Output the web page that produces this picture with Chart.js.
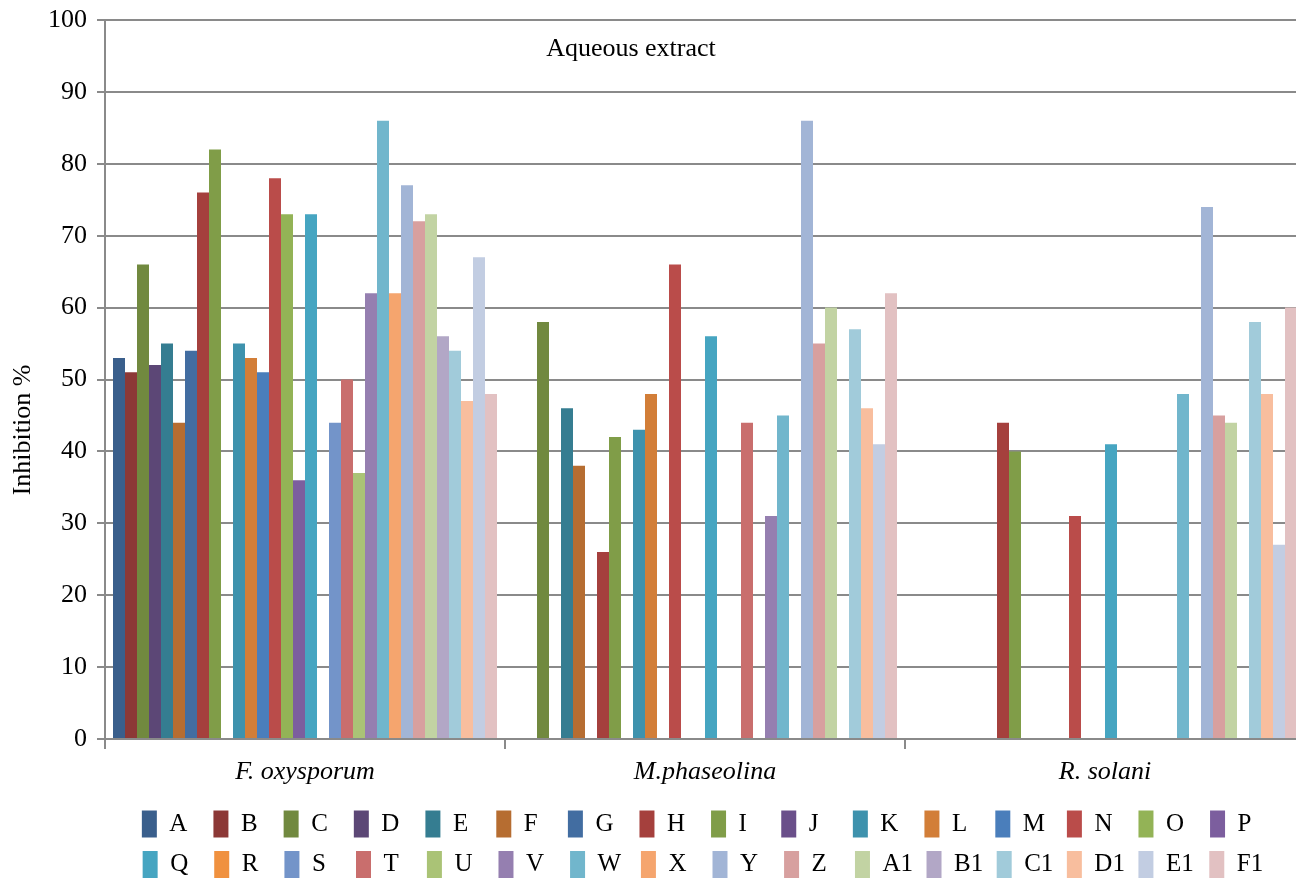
<!DOCTYPE html>
<html>
<head>
<meta charset="utf-8">
<script src="https://cdn.jsdelivr.net/npm/chart.js@4.4.1/dist/chart.umd.min.js"></script>
<style>
    html, body { margin: 0; padding: 0; background: #fff; overflow: hidden; }
    #wrap { width: 1320px; height: 888px; }
</style>
</head>
<body>
<div id="wrap"><canvas id="inhibitionChart"></canvas></div>
<script>
    // categories (x axis groups)
    const categories = ['F. oxysporum', 'M.phaseolina', 'R. solani'];

    // series names (legend)
    const seriesNames = ['A', 'B', 'C', 'D', 'E', 'F', 'G', 'H', 'I', 'J', 'K', 'L', 'M', 'N', 'O', 'P',
        'Q', 'R', 'S', 'T', 'U', 'V', 'W', 'X', 'Y', 'Z', 'A1', 'B1', 'C1', 'D1', 'E1', 'F1'];

    // inhibition % per series, one array per fungus (null = no bar)
    const fOxysporum = [53, 51, 66, 52, 55, 44, 54, 76, 82, null, 55, 53, 51, 78, 73, 36,
        73, null, 44, 50, 37, 62, 86, 62, 77, 72, 73, 56, 54, 47, 67, 48];
    const mPhaseolina = [null, null, 58, null, 46, 38, null, 26, 42, null, 43, 48, null, 66, null, null,
        56, null, null, 44, null, 31, 45, null, 86, 55, 60, null, 57, 46, 41, 62];
    const rSolani = [null, null, null, null, null, null, null, 44, 40, null, null, null, null, 31, null, null,
        41, null, null, null, null, null, 48, null, 74, 45, 44, null, 58, 48, 27, 60];

    // y axis ticks
    const yTicks = [0, 10, 20, 30, 40, 50, 60, 70, 80, 90, 100];

    const seriesColors = [
        '#3a5f8c', '#8c3836', '#71893f', '#5c4776', '#357d91', '#b66d31',
        '#426da1', '#a5403d', '#809d48', '#6a4f8a', '#3e92ad', '#d27e38',
        '#4a7ebb', '#ba4c4a', '#93b356', '#7c5e9e', '#46a5c1', '#f0913f',
        '#7394c9', '#c96e6d', '#aac376', '#957fb0', '#71b6cc', '#f5a56e',
        '#a2b5d6', '#d7a09f', '#c2d3a3', '#b2a7c6', '#a1cbda', '#f8be9e',
        '#c2cde2', '#e2c1c2'
    ];

    const serif = '"Liberation Serif", "Times New Roman", serif';
    const gridGray = '#8a8a8a';
    const legendFontSize = 25;

    Chart.defaults.font.family = serif;
    Chart.defaults.color = '#000';

    const datasets = seriesNames.map((name, i) => ({
        label: name,
        data: [fOxysporum[i], mPhaseolina[i], rSolani[i]],
        backgroundColor: seriesColors[i],
        borderColor: seriesColors[i],
        borderWidth: 0,
        categoryPercentage: 0.96,
        barPercentage: 1.0
    }));

    // legend: pad every label to the same width so columns line up like the original
    function paddedLabels(chart) {
        const items = Chart.defaults.plugins.legend.labels.generateLabels(chart);
        const ctx = chart.ctx;
        ctx.save();
        ctx.font = legendFontSize + 'px ' + serif;
        let target = 0;
        items.forEach(it => { target = Math.max(target, ctx.measureText(it.text).width); });
        items.forEach(it => {
            let t = it.text;
            let guard = 0;
            while (ctx.measureText(t + '\u200A').width <= target + 0.5 && guard < 80) {
                t += '\u200A';
                guard++;
            }
            it.text = t;
        });
        ctx.restore();
        return items;
    }

    // extra texts: panel caption and the y axis title
    const textsPlugin = {
        id: 'texts',
        afterDraw(chart) {
            const {ctx, chartArea} = chart;
            ctx.save();
            ctx.fillStyle = '#000';
            ctx.font = '26px ' + serif;
            ctx.textAlign = 'center';
            ctx.textBaseline = 'middle';
            ctx.fillText('Aqueous extract', chartArea.left + (chartArea.right - chartArea.left) * 0.4383, chartArea.top + 29);

            ctx.translate(chartArea.left - 82, chart.height / 2 - 14);
            ctx.rotate(-Math.PI / 2);
            ctx.fillText('Inhibition %', 0, 0);
            ctx.restore();
        }
    };

    new Chart(document.getElementById('inhibitionChart'), {
        type: 'bar',
        data: {
            labels: categories,
            datasets: datasets
        },
        options: {
            responsive: true,
            maintainAspectRatio: false,
            animation: false,
            layout: {
                padding: { left: 0, right: 15, top: 20, bottom: 0 }
            },
            plugins: {
                title: { display: false },
                tooltip: { enabled: false },
                legend: {
                    position: 'bottom',
                    fullSize: false,
                    align: 'center',
                    labels: {
                        boxWidth: 15,
                        boxHeight: 27,
                        padding: 13.5,
                        color: '#000',
                        font: { size: legendFontSize },
                        generateLabels: paddedLabels
                    }
                }
            },
            scales: {
                x: {
                    offset: true,
                    afterFit(scale) { scale.height = 58; },
                    grid: {
                        display: true,
                        offset: true,
                        drawOnChartArea: false,
                        drawTicks: true,
                        tickLength: 10,
                        color: gridGray,
                        lineWidth: 2
                    },
                    border: { display: true, color: gridGray, width: 2 },
                    ticks: {
                        padding: 8,
                        font: { size: 26, style: 'italic' },
                        color: '#000'
                    }
                },
                y: {
                    min: yTicks[0],
                    max: yTicks[yTicks.length - 1],
                    afterFit(scale) {
                        scale.width = 105;
                        scale.paddingTop = 0;
                        scale.paddingBottom = 0;
                    },
                    afterBuildTicks(scale) { scale.ticks = yTicks.map(v => ({ value: v })); },
                    grid: {
                        color: gridGray,
                        lineWidth: 2,
                        drawTicks: true,
                        tickLength: 8
                    },
                    border: { display: true, color: gridGray, width: 2 },
                    ticks: {
                        padding: 10,
                        font: { size: 26 },
                        color: '#000'
                    },
                    title: { display: false }
                }
            }
        },
        plugins: [textsPlugin]
    });
</script>
</body>
</html>
